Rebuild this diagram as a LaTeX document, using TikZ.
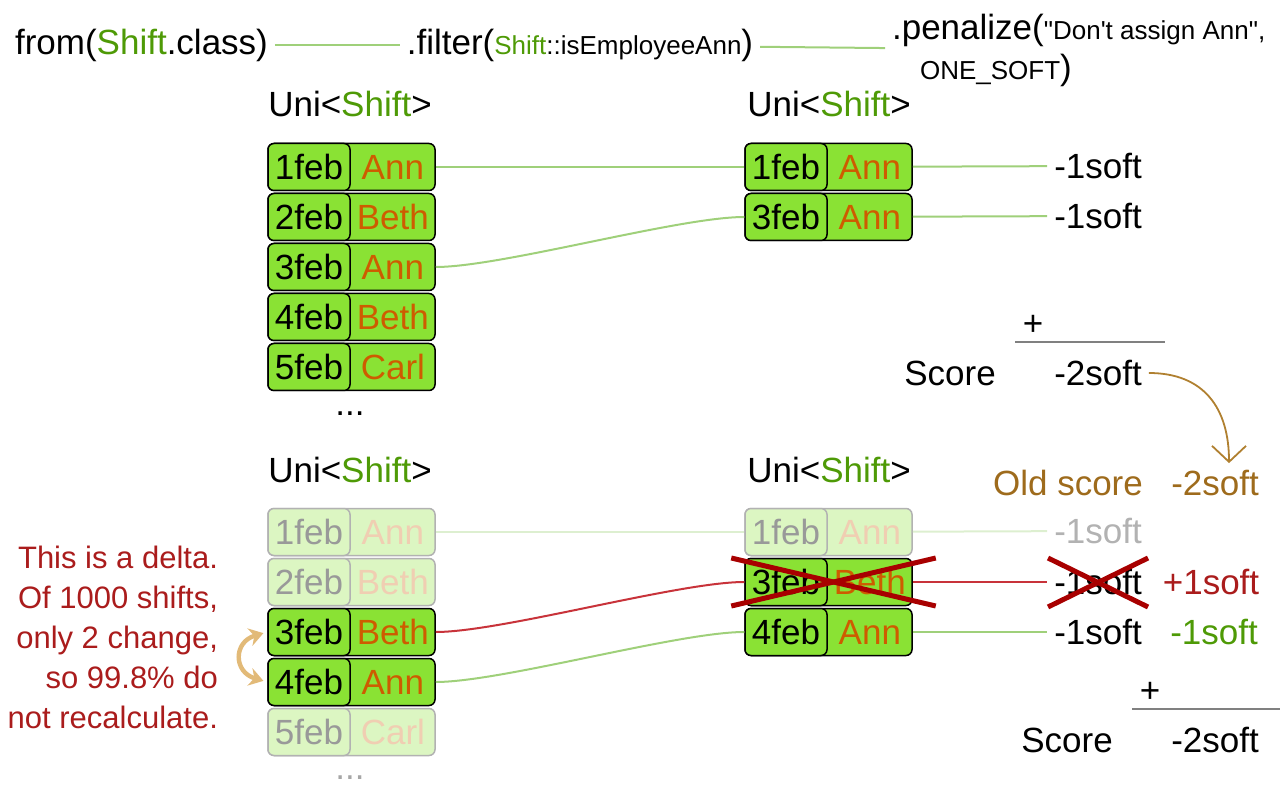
\documentclass[tikz,border=0pt]{standalone}
\usepackage{fontspec}
\setmainfont{Liberation Sans}
\newfontfamily\rawfont{Liberation Sans}[Ligatures=TeXOff]
\usetikzlibrary{arrows.meta}
\definecolor{cellgreen}{HTML}{8AE234}
\definecolor{nameorange}{HTML}{CE5C00}
\definecolor{codegreen}{HTML}{4E9A06}
\definecolor{linkgreen}{HTML}{9FD07A}
\definecolor{linkred}{HTML}{C8333A}
\definecolor{crossred}{HTML}{A80000}
\definecolor{deltared}{HTML}{AA1C1C}
\definecolor{oldbrown}{HTML}{9E6B1C}
\definecolor{arrowbrown}{HTML}{B08030}
\definecolor{swaptan}{HTML}{E2BA78}
\newcommand{\smallcode}{\rawfont\fontsize{13}{15}\selectfont}
\newcommand{\unishift}{Uni<\textcolor{codegreen}{Shift}>}
\newcommand{\shiftrow}[5]{%
	\node[rowbox,#1] (#2) at (#3) {};
	\node[datebox,#1] (#2d) at (#2.west) {#4};
	\node[namebox,#1name] (#2n) at (#2.east) {#5};
}

\begin{document}
\begin{tikzpicture}[x=0.5pt,y=-0.5pt,font=\fontsize{17.5}{21}\selectfont,
	rowbox/.style={draw=black,fill=cellgreen,rounded corners=3pt,line width=0.75pt,minimum width=83.5pt,minimum height=23.5pt,inner sep=0pt},
	datebox/.style={rowbox,minimum width=41pt,anchor=west},
	namebox/.style={text=nameorange,minimum width=42.5pt,inner sep=0pt,anchor=east},
	plain/.style={},
	plainname/.style={},
	faded/.style={fill=cellgreen!30,draw=black!30,text=black!40},
	fadedname/.style={text=nameorange!30},
	link/.style={draw=linkgreen,line width=1pt},
	fadedlink/.style={draw=linkgreen!35,line width=1pt},
	redlink/.style={draw=linkred,line width=1pt},
	cross/.style={draw=crossred,line width=2.5pt},
	sumrule/.style={draw=black!50,line width=1pt},
	deltatext/.style={align=right,text=deltared,font=\fontsize{15.5}{20}\selectfont},
	scorearrow/.style={draw=arrowbrown,line width=0.9pt,-{Straight Barb[length=8pt,width=17pt]}},
	swaparrow/.style={draw=swaptan,line width=2.2pt,{Stealth[length=7pt,width=9pt]}-{Stealth[length=7pt,width=9pt]},shorten <=2pt,shorten >=2pt}]
	\useasboundingbox (0,0) rectangle (1288,785);

	\node[anchor=west] (fromnode) at (8,45) {from(\textcolor{codegreen}{Shift}.class)};
	\node (filternode) at (580,45) {.filter({\smallcode\textcolor{codegreen}{Shift}::isEmployeeAnn})};
	\node[anchor=west,align=left,font=\fontsize{17.5}{20}\selectfont] (penalizenode) at (885,50) {.penalize({\smallcode "Don't assign Ann",}\\\hspace*{14pt}{\smallcode ONE\_SOFT})};
	\draw[link] (fromnode) -- (filternode);
	\draw[link] (filternode) -- (penalizenode);

	\node (unia) at (350,104) {\unishift};
	\node (unib) at (829,104) {\unishift};
	\foreach \i/\d/\n in {1/1feb/Ann,2/2feb/Beth,3/3feb/Ann,4/4feb/Beth,5/5feb/Carl}
		{\shiftrow{plain}{a\i}{351.5,117+50*\i}{\d}{\n}}
	\node (dotsa) at (350,414) {...};
	\shiftrow{plain}{b1}{828.5,167}{1feb}{Ann}
	\shiftrow{plain}{b2}{828.5,217}{3feb}{Ann}
	\draw[link] (a1) -- (b1);
	\draw[link] (a3) .. controls +(150,0) and +(-150,0) .. (b2);

	\node (sa1) at (1098,166) {-1soft};
	\node (sa2) at (1098,216) {-1soft};
	\draw[link] (b1) -- (sa1);
	\draw[link] (b2) -- (sa2);
	\node (plusa) at (1033,325) {+};
	\draw[sumrule] (1015,342) -- (1165,342);
	\node (scorea) at (950,373) {Score};
	\node (totala) at (1098,373) {-2soft};

	\node[text=oldbrown] (oldlabel) at (1068,483) {Old score};
	\node[text=oldbrown] (oldtotal) at (1215,483) {-2soft};
	\draw[scorearrow] (totala.east) .. controls +(55,0) and +(0,-55) .. ([xshift=7]oldtotal.north);

	\node (unic) at (350,470) {\unishift};
	\node (unid) at (829,470) {\unishift};
	\shiftrow{faded}{c1}{351.5,532}{1feb}{Ann}
	\shiftrow{faded}{c2}{351.5,582}{2feb}{Beth}
	\shiftrow{plain}{c3}{351.5,632}{3feb}{Beth}
	\shiftrow{plain}{c4}{351.5,682}{4feb}{Ann}
	\shiftrow{faded}{c5}{351.5,732}{5feb}{Carl}
	\node[text=black!35] (dotsc) at (350,778) {...};
	\shiftrow{faded}{d1}{828.5,532}{1feb}{Ann}
	\shiftrow{plain}{d2}{828.5,582}{3feb}{Beth}
	\shiftrow{plain}{d3}{828.5,632}{4feb}{Ann}
	\draw[fadedlink] (c1) -- (d1);
	\draw[redlink] (c3) .. controls +(150,0) and +(-150,0) .. (d2);
	\draw[link] (c4) .. controls +(150,0) and +(-150,0) .. (d3);

	\node[text=black!30] (sd1) at (1098,531) {-1soft};
	\node (sd2) at (1098,582) {-1soft};
	\node (sd3) at (1098,632) {-1soft};
	\draw[fadedlink] (d1) -- (sd1);
	\draw[redlink] (d2) -- (sd2);
	\draw[link] (d3) -- (sd3);
	\node[text=deltared] (deltaplus) at (1211,582) {+1soft};
	\node[text=codegreen] (deltaminus) at (1214,632) {-1soft};
	\draw[cross] ([shift={(-13,-24)}]d2.west) -- ([shift={(23,24)}]d2.east);
	\draw[cross] ([shift={(-13,24)}]d2.west) -- ([shift={(23,-24)}]d2.east);
	\draw[cross] (1048,558) -- (1148,607);
	\draw[cross] (1048,607) -- (1148,558);

	\node (plusb) at (1150,692) {+};
	\draw[sumrule] (1132,709) -- (1280,709);
	\node (scoreb) at (1067,740) {Score};
	\node (totalb) at (1215,740) {-2soft};

	\node[deltatext,anchor=east] (delta) at (225,637) {This is a delta.\\Of 1000 shifts,\\only 2 change,\\so 99.8\% do\\not recalculate.};
	\draw[swaparrow] (c3d.west) .. controls +(-34,10) and +(-34,-10) .. (c4d.west);
\end{tikzpicture}
\end{document}
